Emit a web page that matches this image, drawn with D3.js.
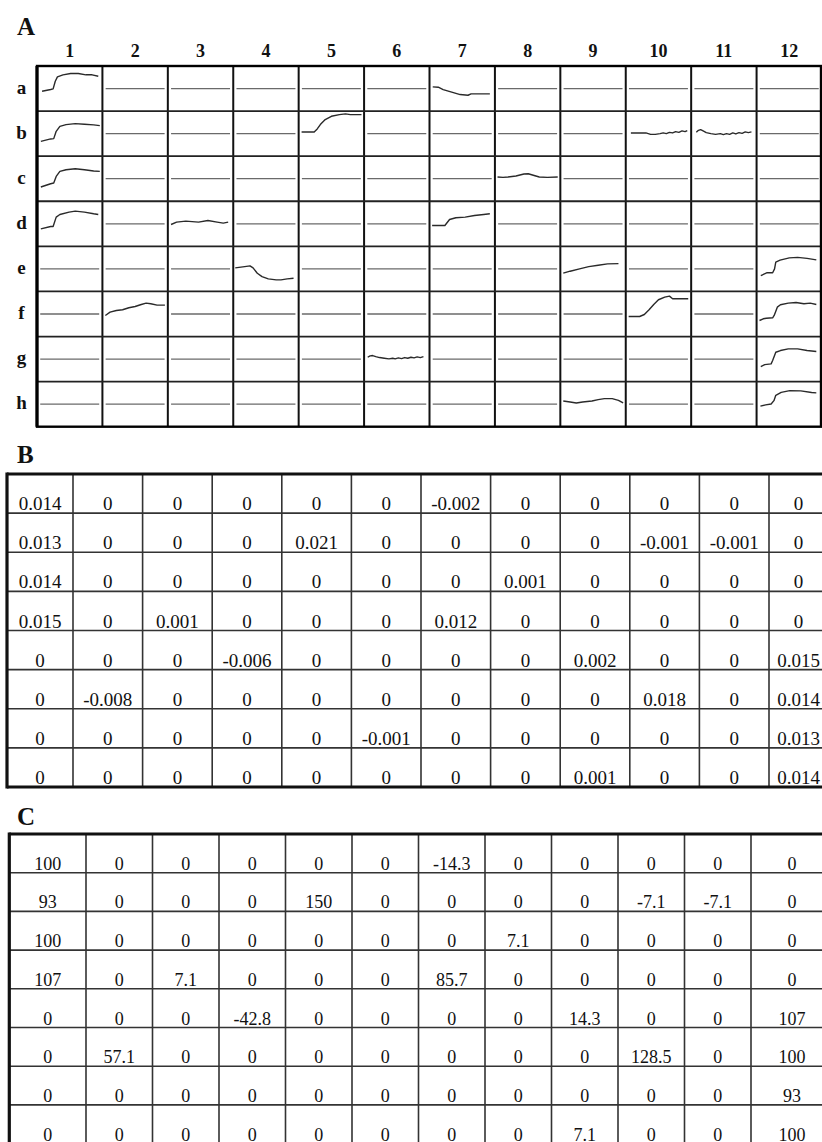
<!DOCTYPE html>
<html>
<head>
<meta charset="utf-8">
<script src="https://cdn.jsdelivr.net/npm/d3@7"></script>
<style>
  body { margin: 0; background: #fff; }
  svg text { font-family: "Liberation Serif", "Times New Roman", serif; fill: #111; }
</style>
</head>
<body>
<div id="chart"></div>
<script>
const rowNames = ['a', 'b', 'c', 'd', 'e', 'f', 'g', 'h'];
const colNames = ['1', '2', '3', '4', '5', '6', '7', '8', '9', '10', '11', '12'];

// Panel A recordings: [time (% of window), signal]
const traceA1 = [[5, -2.7], [19, -1], [23, -0.3], [26.5, 7.3], [30, 11.7], [39, 13.7], [51.5, 15], [64, 15], [76.5, 13.7], [86.5, 13.7], [96.5, 12.3]];
const traceB1 = [[3, -7.7], [19, -5.3], [24, -5], [28, 2.3], [34, 7.3], [44, 9], [59, 10], [74, 9.3], [89, 8.7], [99, 8]];
const traceC1 = [[3, -8.3], [19, -5], [24, -4.3], [28, 2.3], [34, 7.3], [44, 9], [59, 10], [74, 9], [89, 7.7], [99, 7.3]];
const traceD1 = [[3, -5], [19, -2.7], [23, -2.7], [28, 6.7], [34, 9.3], [49, 11.7], [59, 12.7], [74, 11.7], [89, 10], [96.5, 9.3]];
const traceD3 = [[2, -0.7], [11, 1.7], [26, 2.7], [46.7, 1.7], [62, 3.3], [77, 1.7], [87, 0.7], [95, 1.7]];
const traceA7 = [[2, 1.7], [11, 1.3], [19, -1], [31.5, -3.3], [46.7, -6], [59.4, -6.7], [64.5, -5.3], [79.7, -5.3], [95, -5.3]];
const traceB5 = [[1.5, 1.7], [22, 1.7], [27, 4.7], [32, 9], [40, 14], [50, 17.3], [63, 19], [73, 19.7], [81, 19], [99, 19]];
const traceC8 = [[1, 1.7], [10, 1.3], [18, 1.7], [31, 2.7], [44, 4.7], [51, 5], [62, 3], [69, 1.7], [82, 1.3], [99, 1.7]];
const traceD7 = [[1, -1.7], [21.8, -1.7], [29.4, 4.3], [39.6, 6], [54.8, 6.7], [70, 8.3], [85, 9.3], [95, 10]];
const traceB10 = [[5.1, 0.7], [29.6, 0.7], [37.2, -0.7], [44.9, -0.7], [52.6, 0], [57.7, 0.7], [62.8, 0], [67.9, 1.3], [73, 0.7], [78, 2], [83.2, 1.3], [88.3, 2.7], [93.4, 2], [96.9, 3]];
const traceB11 = [[5.1, 1.3], [8.6, 3.3], [12.2, 4], [16.2, 2.7], [21.3, 1], [28.9, 0], [36.5, -0.7], [44.2, 0], [49.2, -1], [54.3, 0], [59.4, -0.7], [64.5, 0.7], [69.5, -0.3], [74.6, 1], [79.7, 0.3], [84.8, 1.7], [89.8, 1], [94.9, 1.7]];
const traceE4 = [[0, 1], [15.4, 2.3], [24, 3], [29, 1], [35.9, -4.3], [43.6, -7.7], [53.8, -10], [66.7, -11], [74.4, -11], [84.6, -10], [94.9, -9.3]];
const traceE9 = [[1.5, -4.3], [12.7, -2.3], [28, 0], [43, 2.3], [58.4, 3.7], [73.6, 5], [91.4, 5.3]];
const traceE12 = [[3.6, -6.7], [14, -3.8], [22.9, -3.8], [26, 0], [28, 6.7], [35, 8.7], [50, 11], [63.6, 11.5], [78.9, 10.5], [94, 9]];
const traceF2 = [[1.5, -1.5], [9.2, 1.8], [19.4, 3.5], [29.6, 4.2], [39.8, 6.2], [50, 7.5], [60, 9.5], [67.9, 10.8], [75.5, 10.2], [85.7, 8.8], [98.5, 8.8]];
const traceF10 = [[1.5, -2.5], [19.4, -2.5], [27, -0.5], [34.7, 4.2], [42.3, 9.5], [50, 14.2], [60.2, 16.8], [67.9, 17.8], [73, 15.2], [85.7, 15.2], [98.5, 15.2]];
const traceF12 = [[1.5, -6.5], [7.6, -4.8], [12.7, -4.2], [22.9, -3.8], [25.4, -1.5], [30.5, 6.8], [35.6, 9.2], [48.3, 10.8], [61, 11.5], [73.8, 10.2], [84, 10.8], [94, 9.5]];
const traceG6 = [[2.6, 1.8], [6.6, 3.2], [10.7, 3.5], [15.8, 2.5], [21.9, 1.5], [29.6, 0.8], [37.2, 0.2], [43.4, 0.8], [47.4, 0.2], [52.6, 1.2], [57.7, 0.5], [62.8, 1.5], [67.9, 0.8], [73, 1.8], [78.1, 1.2], [83.2, 2.2], [88.3, 1.5], [93.4, 2.5]];
const traceG12 = [[3.6, -7.5], [10, -5.5], [20.4, -4.8], [22.9, -1.5], [28, 6.8], [35.6, 8.5], [48.3, 10.2], [63.6, 10.2], [78.9, 8.5], [94, 7.5]];
const traceH9 = [[1.5, 3.2], [12.7, 2.2], [22.8, 1.2], [33, 2.2], [48.2, 3.2], [58.4, 4.5], [68.5, 5.5], [81.2, 5.5], [91.4, 3.8], [99, 1.2]];
const traceH12 = [[3, -2], [11.5, -0.7], [20.4, 0.2], [25, 3.5], [28, 8.8], [36.8, 11.7], [50.8, 13.5], [68.7, 13.3], [86.4, 11.7], [94, 11.3]];

const traces = [
  { row: 'a', col: '1', points: traceA1 }, { row: 'b', col: '1', points: traceB1 },
  { row: 'c', col: '1', points: traceC1 }, { row: 'd', col: '1', points: traceD1 },
  { row: 'd', col: '3', points: traceD3 }, { row: 'a', col: '7', points: traceA7 },
  { row: 'b', col: '5', points: traceB5 }, { row: 'c', col: '8', points: traceC8 },
  { row: 'd', col: '7', points: traceD7 }, { row: 'b', col: '10', points: traceB10 },
  { row: 'b', col: '11', points: traceB11 }, { row: 'e', col: '4', points: traceE4 },
  { row: 'e', col: '9', points: traceE9 }, { row: 'e', col: '12', points: traceE12 },
  { row: 'f', col: '2', points: traceF2 }, { row: 'f', col: '10', points: traceF10 },
  { row: 'f', col: '12', points: traceF12 }, { row: 'g', col: '6', points: traceG6 },
  { row: 'g', col: '12', points: traceG12 }, { row: 'h', col: '9', points: traceH9 },
  { row: 'h', col: '12', points: traceH12 }
];

// Panel B: slopes
const slopeRows = [
  ['0.014', '0', '0', '0', '0', '0', '-0.002', '0', '0', '0', '0', '0'],
  ['0.013', '0', '0', '0', '0.021', '0', '0', '0', '0', '-0.001', '-0.001', '0'],
  ['0.014', '0', '0', '0', '0', '0', '0', '0.001', '0', '0', '0', '0'],
  ['0.015', '0', '0.001', '0', '0', '0', '0.012', '0', '0', '0', '0', '0'],
  ['0', '0', '0', '-0.006', '0', '0', '0', '0', '0.002', '0', '0', '0.015'],
  ['0', '-0.008', '0', '0', '0', '0', '0', '0', '0', '0.018', '0', '0.014'],
  ['0', '0', '0', '0', '0', '-0.001', '0', '0', '0', '0', '0', '0.013'],
  ['0', '0', '0', '0', '0', '0', '0', '0', '0.001', '0', '0', '0.014']
];

// Panel C: percent of reference
const percentRows = [
  ['100', '0', '0', '0', '0', '0', '-14.3', '0', '0', '0', '0', '0'],
  ['93', '0', '0', '0', '150', '0', '0', '0', '0', '-7.1', '-7.1', '0'],
  ['100', '0', '0', '0', '0', '0', '0', '7.1', '0', '0', '0', '0'],
  ['107', '0', '7.1', '0', '0', '0', '85.7', '0', '0', '0', '0', '0'],
  ['0', '0', '0', '-42.8', '0', '0', '0', '0', '14.3', '0', '0', '107'],
  ['0', '57.1', '0', '0', '0', '0', '0', '0', '0', '128.5', '0', '100'],
  ['0', '0', '0', '0', '0', '0', '0', '0', '0', '0', '0', '93'],
  ['0', '0', '0', '0', '0', '0', '0', '0', '7.1', '0', '0', '100']
];

const svg = d3.select('#chart').append('svg')
  .attr('width', 822)
  .attr('height', 1142);

// ---------- Panel A ----------
const gridA = { left: 37, right: 822, top: 66, bottom: 426.7 };
const x = d3.scaleBand().domain(colNames).range([gridA.left, gridA.right]);
const y = d3.scaleBand().domain(rowNames).range([gridA.top, gridA.bottom]);

svg.append('text').attr('x', 17).attr('y', 35)
  .style('font-size', '25px').style('font-weight', 'bold').text('A');

svg.append('g').selectAll('text')
  .data(colNames).join('text')
  .attr('x', d => x(d) + x.bandwidth() / 2)
  .attr('y', 56.5)
  .attr('text-anchor', 'middle')
  .style('font-size', '18px').style('font-weight', 'bold')
  .text(d => d);

svg.append('g').selectAll('text')
  .data(rowNames).join('text')
  .attr('x', 21.5)
  .attr('y', d => y(d) + y.bandwidth() / 2 + 5)
  .attr('text-anchor', 'middle')
  .style('font-size', '19px').style('font-weight', 'bold')
  .text(d => d);

const traceMap = new Map(traces.map(d => [d.row + d.col, d]));
const cells = [];
rowNames.forEach(r => colNames.forEach(c => cells.push({ row: r, col: c })));

const cellG = svg.append('g');
cells.forEach(cell => {
  const x0 = x(cell.col), y0 = y(cell.row);
  const tx = d3.scaleLinear().domain([0, 100]).range([x0 + 2, x0 + x.bandwidth() - 2]);
  const vy = d3.scaleLinear().domain([-22.5, 22.5]).range([y0 + y.bandwidth(), y0]);
  const tr = traceMap.get(cell.row + cell.col);
  if (tr) {
    cellG.append('path')
      .attr('d', d3.line().x(d => tx(d[0])).y(d => vy(d[1]))(tr.points))
      .attr('fill', 'none')
      .attr('stroke', '#2a2a2a')
      .attr('stroke-width', 1.4)
      .attr('stroke-linejoin', 'round');
  } else {
    cellG.append('line')
      .attr('x1', tx(2)).attr('x2', tx(98))
      .attr('y1', vy(0)).attr('y2', vy(0))
      .attr('stroke', '#6a6a6a')
      .attr('stroke-width', 1.3);
  }
});

// grid lines
const gridG = svg.append('g');
gridG.selectAll('.vline')
  .data(colNames.slice(1)).join('line')
  .attr('class', 'vline')
  .attr('x1', d => x(d)).attr('x2', d => x(d))
  .attr('y1', gridA.top).attr('y2', gridA.bottom)
  .attr('stroke', '#111').attr('stroke-width', 2);
gridG.selectAll('.hline')
  .data(rowNames.slice(1)).join('line')
  .attr('class', 'hline')
  .attr('x1', gridA.left).attr('x2', gridA.right)
  .attr('y1', d => y(d)).attr('y2', d => y(d))
  .attr('stroke', '#222').attr('stroke-width', 1.8);
gridG.append('rect')
  .attr('x', gridA.left).attr('y', gridA.top)
  .attr('width', gridA.right - gridA.left - 1).attr('height', gridA.bottom - gridA.top)
  .attr('fill', 'none').attr('stroke', '#000').attr('stroke-width', 2.4);
gridG.append('line')
  .attr('x1', gridA.left).attr('x2', gridA.left)
  .attr('y1', gridA.top).attr('y2', gridA.bottom)
  .attr('stroke', '#000').attr('stroke-width', 3.2);

// ---------- Panels B and C ----------
function drawTable(values, opt) {
  const g = svg.append('g');
  const edges = [opt.left, opt.left + opt.firstWidth];
  for (let i = 1; i < colNames.length - 1; i++) edges.push(edges[i] + opt.colWidth);
  edges.push(edges[edges.length - 1] + opt.lastWidth);
  const ry = d3.scaleBand().domain(rowNames).range([opt.top, opt.top + opt.rowHeight * rowNames.length]);
  const bottom = opt.top + opt.rowHeight * rowNames.length;

  svg.append('text').attr('x', 17).attr('y', opt.labelY)
    .style('font-size', '25px').style('font-weight', 'bold').text(opt.label);

  g.selectAll('.hl')
    .data(rowNames.slice(1)).join('line')
    .attr('class', 'hl')
    .attr('x1', opt.left).attr('x2', 822)
    .attr('y1', d => ry(d)).attr('y2', d => ry(d))
    .attr('stroke', '#333').attr('stroke-width', 1.6);
  g.selectAll('.vl')
    .data(edges.slice(1, -1)).join('line')
    .attr('class', 'vl')
    .attr('x1', d => d).attr('x2', d => d)
    .attr('y1', opt.top).attr('y2', bottom)
    .attr('stroke', '#333').attr('stroke-width', 1.6);

  g.append('line').attr('x1', opt.left).attr('x2', 822)
    .attr('y1', opt.top).attr('y2', opt.top)
    .attr('stroke', '#111').attr('stroke-width', 2.8);
  g.append('line').attr('x1', opt.left).attr('x2', 822)
    .attr('y1', bottom).attr('y2', bottom)
    .attr('stroke', '#111').attr('stroke-width', 2.8);
  g.append('line').attr('x1', opt.left).attr('x2', opt.left)
    .attr('y1', opt.top - 1.4).attr('y2', bottom + 1.4)
    .attr('stroke', '#111').attr('stroke-width', 3.2);

  values.forEach((row, ri) => {
    g.selectAll('.r' + ri)
      .data(row).join('text')
      .attr('class', 'r' + ri)
      .attr('x', (d, ci) => (edges[ci] + edges[ci + 1]) / 2)
      .attr('y', ry(rowNames[ri]) + opt.rowHeight - 3)
      .attr('text-anchor', 'middle')
      .style('font-size', opt.fontSize + 'px')
      .text(d => d);
  });
}

drawTable(slopeRows, {
  label: 'B', labelY: 463, left: 7, firstWidth: 66, colWidth: 69.6, lastWidth: 59,
  top: 474, rowHeight: 39.125, fontSize: 19
});
drawTable(percentRows, {
  label: 'C', labelY: 825, left: 9.3, firstWidth: 76.7, colWidth: 66.5, lastWidth: 82,
  top: 834, rowHeight: 38.7, fontSize: 18
});
</script>
</body>
</html>
